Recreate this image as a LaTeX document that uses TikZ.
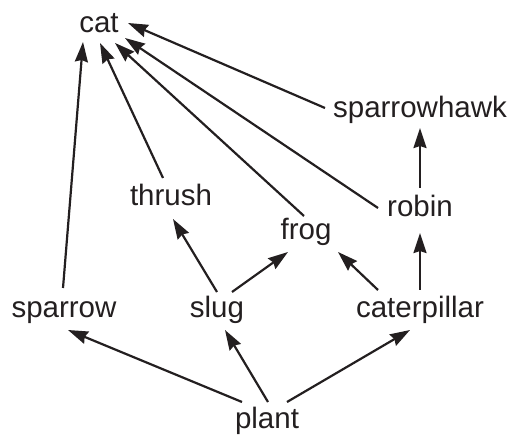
\documentclass[tikz,border=0pt]{standalone}
\usepackage{fontspec}
\setmainfont{Liberation Sans}
\usepackage{xcolor}
\usetikzlibrary{arrows.meta}
\definecolor{ink}{HTML}{231F20}

\begin{document}
\begin{tikzpicture}[x=1pt,y=1pt,
  animal/.style={anchor=base,inner sep=0pt,text=ink,font=\fontsize{29.5}{35}\selectfont},
  eats/.style={draw=ink,line width=2.2pt,-{Stealth[length=20pt,width=13pt,inset=2pt]}}]
\useasboundingbox (0,0) rectangle (510,436);

% the animals and the plant
\node [animal] (cat) at (99,403) {cat};
\node [animal] (hawk) at (420,318) {sparrowhawk};
\node [animal] (thrush) at (171,230) {thrush};
\node [animal] (robin) at (420,219) {robin};
\node [animal] (frog) at (306,196) {frog};
\node [animal] (sparrow) at (64,118) {sparrow};
\node [animal] (slug) at (217,118) {slug};
\node [animal] (cpillar) at (420,118) {caterpillar};
\node [animal] (plant) at (267,8) {plant};

% who gets eaten by whom
\draw [eats] ([shift={(-1,30)}]sparrow.base) -- ([shift={(-16,-9)}]cat.base);
\draw [eats] ([shift={(-8,28)}]thrush.base) -- ([shift={(1,-10)}]cat.base);
\draw [eats] ([shift={(-2,24)}]frog.base) -- ([shift={(16,-10)}]cat.base);
\draw [eats] ([shift={(-42,9)}]robin.base) -- ([shift={(26,-5)}]cat.base);
\draw [eats] ([shift={(-95,10)}]hawk.base) -- ([shift={(29,10)}]cat.base);
\draw [eats] ([shift={(0,29)}]robin.base) -- ([shift={(0,-10)}]hawk.base);
\draw [eats] ([shift={(0,28)}]cpillar.base) -- ([shift={(0,-16)}]robin.base);
\draw [eats] ([shift={(-42,28)}]cpillar.base) -- ([shift={(32,-12)}]frog.base);
\draw [eats] ([shift={(15,26)}]slug.base) -- ([shift={(-18,-12)}]frog.base);
\draw [eats] ([shift={(0,26)}]slug.base) -- ([shift={(2,-13)}]thrush.base);
\draw [eats] ([shift={(-25,26)}]plant.base) -- ([shift={(4,-12)}]sparrow.base);
\draw [eats] ([shift={(1,26)}]plant.base) -- ([shift={(8,-12)}]slug.base);
\draw [eats] ([shift={(20,26)}]plant.base) -- ([shift={(-10,-12)}]cpillar.base);

\end{tikzpicture}
\end{document}
